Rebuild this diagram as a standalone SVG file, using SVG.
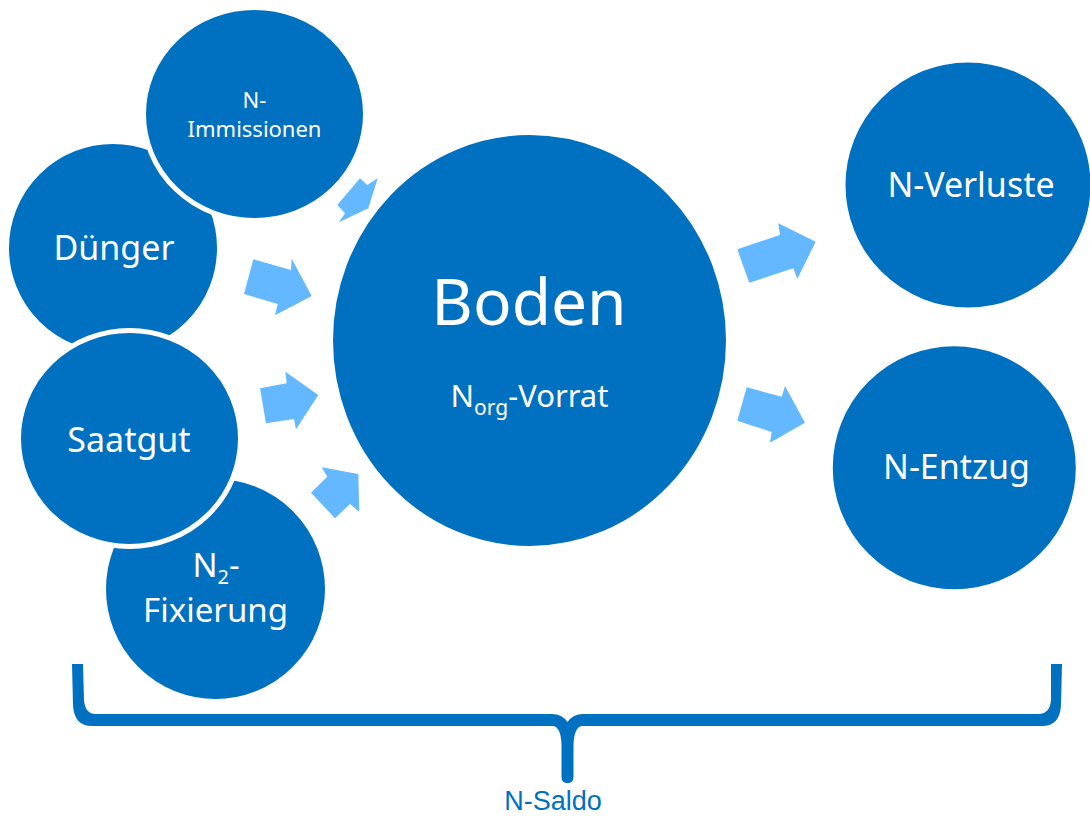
<svg xmlns="http://www.w3.org/2000/svg" width="1090" height="816" viewBox="0 0 1090 816">
<style>
.node{fill:#0070C0;stroke:#FFFFFF;stroke-width:5}
.lbl{font-family:"Noto Sans","Open Sans","Liberation Sans",sans-serif;fill:#FFFFFF;text-anchor:middle}
.arrow{fill:#63B8FF}
</style>
<rect width="1090" height="816" fill="#FFFFFF"/>
<g id="node-duenger">
<ellipse class="node" cx="113" cy="248" rx="106.5" ry="106.5"/>
<text class="lbl" x="114" y="260" font-size="34">Dünger</text>
</g>
<g id="node-immissionen">
<ellipse class="node" cx="254.5" cy="114" rx="111" ry="106.5"/>
<text class="lbl" x="254.5" y="108" font-size="22">N-</text>
<text class="lbl" x="254.5" y="137" font-size="22">Immissionen</text>
</g>
<g id="node-fixierung">
<ellipse class="node" cx="215.5" cy="589" rx="112" ry="112.5"/>
<text class="lbl" x="216" y="577" font-size="33">N<tspan font-size="20" dy="7">2</tspan><tspan dy="-7">-</tspan></text>
<text class="lbl" x="215.5" y="622" font-size="33">Fixierung</text>
</g>
<g id="node-saatgut">
<ellipse class="node" cx="129.5" cy="438.5" rx="111" ry="108"/>
<text class="lbl" x="129" y="452" font-size="34">Saatgut</text>
</g>
<g id="node-boden">
<ellipse class="node" cx="529.5" cy="340.5" rx="199" ry="208"/>
<text class="lbl" x="529" y="325" font-size="64">Boden</text>
<text class="lbl" x="529.5" y="407" font-size="31">N<tspan font-size="21" dy="8">org</tspan><tspan dy="-8">-Vorrat</tspan></text>
</g>
<g id="node-verluste">
<ellipse class="node" cx="968" cy="185" rx="125" ry="125"/>
<text class="lbl" x="971" y="197" font-size="34">N-Verluste</text>
</g>
<g id="node-entzug">
<ellipse class="node" cx="954.3" cy="467.7" rx="124" ry="124"/>
<text class="lbl" x="956.5" y="479" font-size="34">N-Entzug</text>
</g>
<g id="connectors">
<polygon class="arrow" points="337.3,205 360,178.3 367.3,185 377.7,178.3 368.3,208.3 339,222.3 345,213.3"/>
<polygon class="arrow" points="253.3,259.3 291,270 291.7,258.7 311.7,296 275,315.3 277.7,304 244,294"/>
<polygon class="arrow" points="260,388.3 286.7,383.3 285.3,371.7 318.3,395 296,429.3 294,419 266,423.3"/>
<polygon class="arrow" points="311,492.7 327.3,476.7 321.7,467.3 358.3,474 359.3,511.7 350,504 335,518.3"/>
<polygon class="arrow" points="737.3,249.3 780,235 778.3,223.3 815.7,241.7 797.3,279 793.3,268.3 749.3,282.7"/>
<polygon class="arrow" points="746.7,387.3 781.7,396.7 785,386 805,422.7 770,442.7 771.7,432 737.3,420.7"/>
</g>
<g id="brace">
<path fill="#0070C0" d="M72,664 L83,664 L84,700 Q85,714 96,714 L552,714 Q562,714 567.5,722 Q573,714 583,714 L1038,714 Q1050,714 1051,700 L1051,664 L1062,664 L1061,705 Q1060,726 1042,726 L582,726 Q574,727 573.5,745 L573.5,777 Q573.5,783 567.5,783 Q561.5,783 561.5,777 L561.5,745 Q561,727 553,726 L92,726 Q74,726 73,705 Z"/>
<text x="553" y="810" font-family="'Liberation Sans',Arial,sans-serif" font-size="27" fill="#0070C0" text-anchor="middle">N-Saldo</text>
</g>
</svg>
